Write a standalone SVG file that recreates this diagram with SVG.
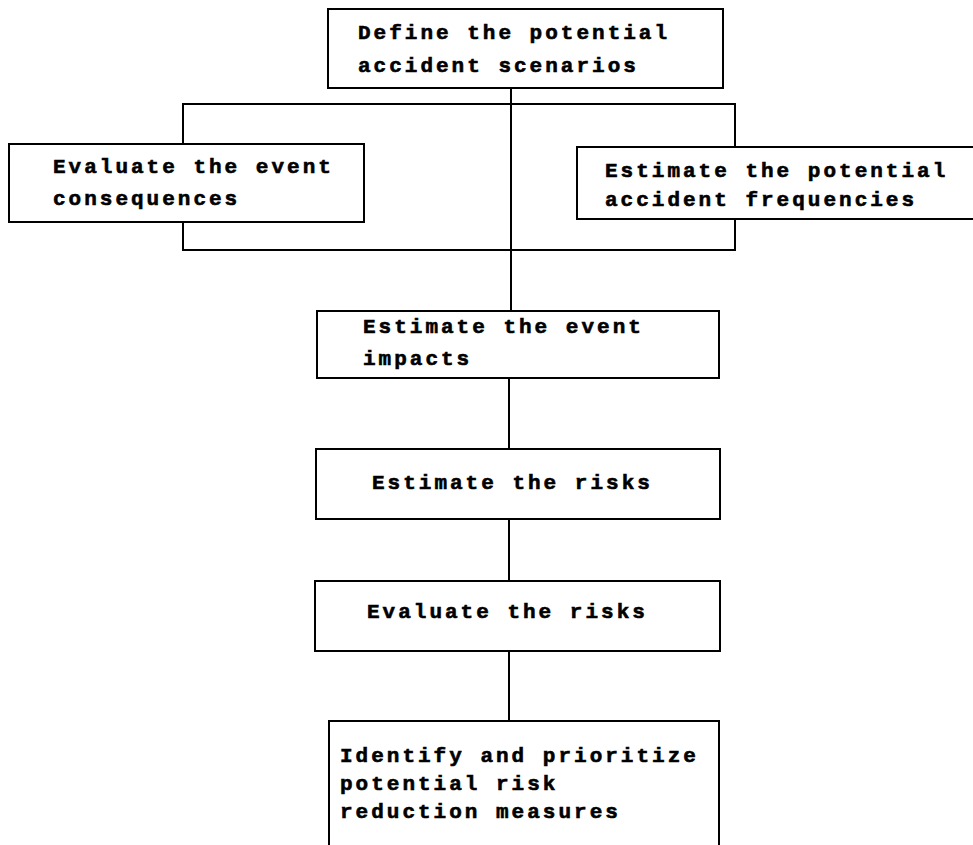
<svg xmlns="http://www.w3.org/2000/svg" width="973" height="845" viewBox="0 0 973 845">
<style>
.box{fill:#fff;stroke:#000;stroke-width:2}
.ln{fill:none;stroke:#000;stroke-width:2}
text{font-family:"Liberation Mono","DejaVu Sans Mono",monospace;font-weight:bold;font-size:21px;letter-spacing:3px;fill:#000;stroke:#000;stroke-width:0.6px}
</style>
<rect width="973" height="845" fill="#fff"/>
<g id="connectors">
<line class="ln" x1="511" y1="88" x2="511" y2="311"/>
<rect class="ln" x="183" y="104" width="552" height="146"/>
<line class="ln" x1="509" y1="378" x2="509" y2="449"/>
<line class="ln" x1="509" y1="519" x2="509" y2="581"/>
<line class="ln" x1="509" y1="651" x2="509" y2="721"/>
</g>
<g id="n1">
<rect class="box" x="328" y="9" width="395" height="79"/>
<text x="358" y="39">Define the potential</text>
<text x="358" y="72">accident scenarios</text>
</g>
<g id="n2">
<rect class="box" x="9" y="144" width="355" height="78"/>
<text x="53" y="173">Evaluate the event</text>
<text x="53" y="205">consequences</text>
</g>
<g id="n3">
<rect class="box" x="577" y="147" width="400" height="72"/>
<text x="605" y="177">Estimate the potential</text>
<text x="605" y="206">accident frequencies</text>
</g>
<g id="n4">
<rect class="box" x="317" y="311" width="402" height="67"/>
<text x="363" y="333">Estimate the event</text>
<text x="363" y="365">impacts</text>
</g>
<g id="n5">
<rect class="box" x="316" y="449" width="404" height="70"/>
<text x="372" y="489">Estimate the risks</text>
</g>
<g id="n6">
<rect class="box" x="315" y="581" width="405" height="70"/>
<text x="367" y="618">Evaluate the risks</text>
</g>
<g id="n7">
<rect class="box" x="329" y="721" width="390" height="140"/>
<text x="340" y="762">Identify and prioritize</text>
<text x="340" y="790">potential risk</text>
<text x="340" y="818">reduction measures</text>
</g>
</svg>
